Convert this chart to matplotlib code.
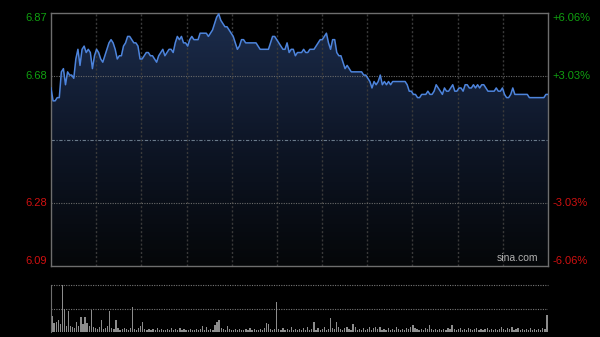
import numpy as np
import matplotlib
matplotlib.use("Agg")
import matplotlib.pyplot as plt
from matplotlib.colors import LinearSegmentedColormap

plt.rcParams['font.family'] = ['Liberation Sans', 'DejaVu Sans']

# ---- data ----
prev_close = 6.48
price_top, price_bottom = 6.8727, 6.0873
left_labels = ["6.87", "6.68", "6.28", "6.09"]
right_labels = ["+6.06%", "+3.03%", "-3.03%", "-6.06%"]
label_values = [6.8727, 6.6763, 6.2837, 6.0873]

prices = [
    6.64, 6.60, 6.60, 6.61, 6.61, 6.69, 6.70, 6.65, 6.69, 6.68,
    6.68, 6.67, 6.73, 6.76, 6.71, 6.76, 6.77, 6.75, 6.76, 6.75,
    6.70, 6.74, 6.76, 6.75, 6.73, 6.72, 6.74, 6.76, 6.78, 6.79,
    6.78, 6.76, 6.73, 6.74, 6.74, 6.77, 6.78, 6.80, 6.80, 6.79,
    6.78, 6.78, 6.77, 6.73, 6.73, 6.74, 6.75, 6.75, 6.74, 6.74,
    6.73, 6.72, 6.74, 6.75, 6.76, 6.74, 6.75, 6.76, 6.76, 6.75,
    6.78, 6.80, 6.79, 6.80, 6.78, 6.78, 6.77, 6.79, 6.80, 6.79,
    6.79, 6.79, 6.81, 6.81, 6.81, 6.81, 6.80, 6.81, 6.82, 6.84,
    6.86, 6.87, 6.85, 6.84, 6.83, 6.83, 6.82, 6.81, 6.80, 6.78,
    6.76, 6.77, 6.79, 6.79, 6.78, 6.78, 6.78, 6.78, 6.78, 6.78,
    6.77, 6.76, 6.76, 6.76, 6.76, 6.76, 6.78, 6.80, 6.80, 6.79,
    6.78, 6.77, 6.76, 6.76, 6.78, 6.75, 6.76, 6.76, 6.74, 6.75,
    6.75, 6.75, 6.76, 6.75, 6.75, 6.76, 6.76, 6.76, 6.77, 6.78,
    6.79, 6.79, 6.80, 6.81, 6.78, 6.76, 6.79, 6.79, 6.75, 6.74,
    6.74, 6.72, 6.70, 6.71, 6.70, 6.69, 6.69, 6.69, 6.69, 6.69,
    6.69, 6.68, 6.68, 6.67, 6.66, 6.64, 6.66, 6.65, 6.66, 6.68,
    6.65, 6.66, 6.65, 6.66, 6.65, 6.66, 6.66, 6.66, 6.66, 6.66,
    6.66, 6.66, 6.65, 6.63, 6.63, 6.62, 6.62, 6.61, 6.61, 6.62,
    6.62, 6.62, 6.63, 6.62, 6.62, 6.63, 6.65, 6.64, 6.63, 6.62,
    6.64, 6.63, 6.63, 6.64, 6.65, 6.63, 6.63, 6.64, 6.64, 6.63,
    6.65, 6.65, 6.64, 6.64, 6.65, 6.64, 6.65, 6.64, 6.65, 6.65,
    6.64, 6.63, 6.63, 6.63, 6.63, 6.64, 6.63, 6.63, 6.64, 6.62,
    6.61, 6.61, 6.62, 6.64, 6.62, 6.62, 6.62, 6.62, 6.62, 6.62,
    6.62, 6.61, 6.61, 6.61, 6.61, 6.61, 6.61, 6.61, 6.61, 6.62,
    6.62,
]

volumes = [
    16, 9, 10, 12, 8, 47, 23, 6, 21, 6,
    5, 4, 10, 6, 15, 8, 15, 9, 6, 22,
    5, 4, 3, 5, 12, 3, 4, 6, 21, 4,
    3, 12, 4, 2, 3, 4, 3, 2, 4, 25,
    3, 2, 4, 6, 10, 3, 2, 3, 2, 3,
    2, 4, 2, 3, 2, 2, 3, 2, 4, 2,
    3, 2, 4, 2, 3, 2, 2, 3, 2, 2,
    3, 2, 3, 6, 2, 5, 2, 3, 2, 7,
    10, 12, 4, 3, 2, 6, 3, 2, 2, 3,
    2, 3, 2, 2, 3, 2, 4, 2, 3, 2,
    2, 3, 2, 4, 9, 8, 3, 2, 3, 30,
    3, 2, 4, 2, 3, 2, 5, 2, 3, 2,
    3, 2, 4, 2, 5, 2, 3, 10, 2, 4,
    2, 3, 5, 2, 3, 14, 4, 3, 10, 5,
    3, 2, 4, 5, 3, 2, 8, 5, 2, 3,
    2, 4, 2, 3, 5, 2, 4, 5, 3, 5,
    2, 3, 2, 4, 2, 3, 2, 5, 3, 2,
    3, 2, 4, 3, 5, 7, 4, 3, 2, 3,
    2, 4, 3, 7, 3, 2, 3, 2, 3, 2,
    3, 2, 4, 3, 7, 3, 2, 3, 4, 2,
    3, 2, 4, 3, 2, 3, 4, 2, 3, 2,
    3, 4, 2, 3, 2, 3, 2, 3, 5, 3,
    2, 4, 3, 5, 2, 3, 4, 2, 3, 2,
    3, 2, 4, 2, 3, 2, 3, 2, 4, 3,
    17,
]

minutes = np.arange(len(prices))
n_sections = 11

# ---- figure ----
W, H = 600, 337
fig = plt.figure(figsize=(W / 100, H / 100), dpi=100, facecolor="black")

def px_axes(l, t, r, b):
    return fig.add_axes([l / W, 1 - b / H, (r - l) / W, (b - t) / H])

ax = px_axes(51, 13, 548, 266)
ax.set_facecolor("black")
xmax = len(prices) - 1
ax.set_xlim(0, xmax)
ax.set_ylim(price_bottom, price_top)

# gradient fill under line
cmap = LinearSegmentedColormap.from_list("g", ["#050709", "#0e1627", "#1c2d4d"])
grad = np.linspace(0, 1, 256).reshape(-1, 1)
im = ax.imshow(grad, aspect="auto", cmap=cmap, origin="lower",
               extent=[0, xmax, price_bottom, price_top], zorder=1)
poly = ax.fill_between(minutes, prices, price_bottom, facecolor="none",
                       edgecolor="none", zorder=1)
clip = poly.get_paths()[0]
im.set_clip_path(clip, transform=ax.transData)

# grid lines
for k in range(1, n_sections):
    ax.axvline(k * xmax / n_sections, color="#3a3a3a", lw=1,
               ls=(0, (1.5, 1.5)), zorder=2)
for v in (label_values[1], label_values[2]):
    ax.axhline(v, color="#6a6a6a", lw=0.8, ls=(0, (1, 1.2)), zorder=2)
ax.axhline(prev_close, color="#6a7a8a", lw=0.8, ls=(0, (3, 1.5, 1, 1.5)), zorder=2)

ax.plot(minutes, prices, color="#4d84dc", lw=1.1, zorder=3)

for s in ax.spines.values():
    s.set_color("#6e6e6e")
    s.set_linewidth(1)
ax.set_xticks([])
ax.set_yticks([])

# labels
for i, (lab, rlab, v) in enumerate(zip(left_labels, right_labels, label_values)):
    col = "#10a010" if v > prev_close else "#d01010"
    va = "center"
    if i == 0:
        va = "top"
    elif i == len(label_values) - 1:
        va = "bottom"
    ax.annotate(lab, xy=(0, v), xycoords=("axes fraction", "data"),
                xytext=(-3, 0), textcoords="offset points",
                ha="right", va=va, color=col, fontsize=8)
    ax.annotate(rlab, xy=(1, v), xycoords=("axes fraction", "data"),
                xytext=(3.5, 0), textcoords="offset points",
                ha="left", va=va, color=col, fontsize=8)

ax.text(0.98, 0.012, "sina.com", transform=ax.transAxes, ha="right",
        va="bottom", color="#b0b0b0", fontsize=7.5, zorder=4)

# volume panel
vax = px_axes(51, 285, 548, 332)
vax.set_facecolor("black")
vmax = max(volumes)
vax.set_xlim(-0.5, xmax + 0.5)
vax.set_ylim(0, vmax)
vax.bar(minutes, volumes, width=0.6, color="#8c8c8c", zorder=2)
vax.axhline(vmax, color="#777777", lw=0.8, ls=(0, (1, 1.2)), zorder=1, clip_on=False)
vax.axhline(vmax / 2, color="#777777", lw=0.8, ls=(0, (1, 1.2)), zorder=1)
for name, s in vax.spines.items():
    s.set_visible(name == "left")
    s.set_color("#6e6e6e")
vax.set_xticks([])
vax.set_yticks([])

fig.savefig("out.png", dpi=100, facecolor="black")
